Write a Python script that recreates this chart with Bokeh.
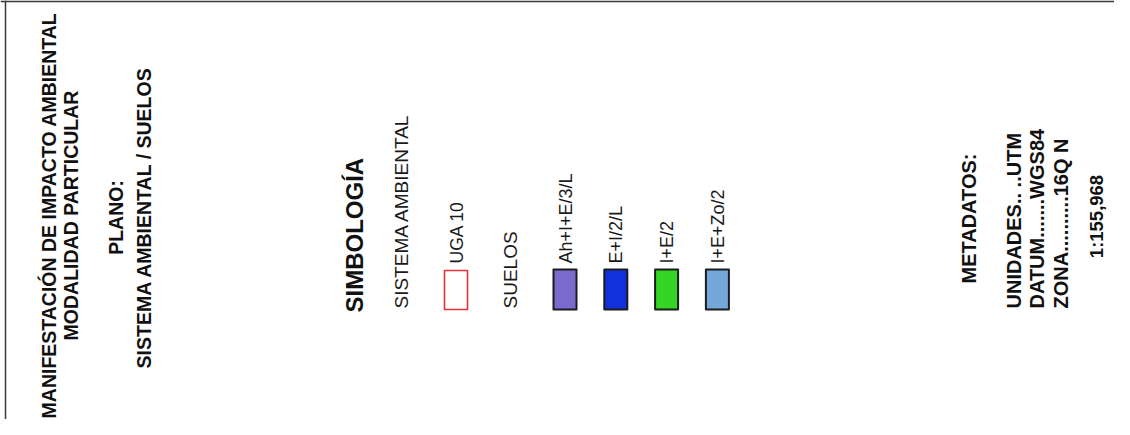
import math
from bokeh.plotting import figure
from bokeh.models import Range1d, Span, ColumnDataSource
from bokeh.core.properties import value
from bokeh.embed import file_html
from bokeh.resources import INLINE

# ---------------- data ----------------
title_lines = ["MANIFESTACIÓN DE IMPACTO AMBIENTAL", "MODALIDAD PARTICULAR"]
plano_lines = ["PLANO:", "SISTEMA AMBIENTAL / SUELOS"]
legend_title = "SIMBOLOGÍA"
section_labels = ["SISTEMA AMBIENTAL", "SUELOS"]
uga_labels = ["UGA 10"]
uga_colors = ["#e8323a"]
soil_labels = ["Ah+I+E/3/L", "E+I/2/L", "I+E/2", "I+E+Zo/2"]
soil_colors = ["#7b6bcf", "#1231dd", "#33d624", "#76a7da"]
meta_title = "METADATOS:"
meta_lines = ["UNIDADES.. ..UTM", "DATUM.......WGS84", "ZONA..........16Q N"]
scale_text = "1:155,968"

# ---------------- layout (pixel coordinates) ----------------
FONT = "Liberation Sans"
ANG = math.pi / 2
W, H = 1114, 419
TX = -7  # rotated-text offset

p = figure(width=W, height=H, output_backend="svg", toolbar_location=None,
           x_range=Range1d(0, W), y_range=Range1d(H, 0),
           min_border=0, background_fill_color="white")
p.axis.visible = False
p.grid.visible = False
p.outline_line_color = None

# frame lines
p.add_layout(Span(location=0.8, dimension="width", line_color="#3a3a3a", line_width=1.8))
p.add_layout(Span(location=5, dimension="height", line_color="#3a3a3a", line_width=1.5))

def vtext(xs, ys, texts, size, bold=False, align="center", color="#111111"):
    src = ColumnDataSource(dict(x=[x + TX for x in xs], y=ys, t=texts))
    p.text(x="x", y="y", text="t", source=src, angle=ANG,
           text_font=value(FONT), text_font_size=f"{size}px",
           text_font_style="bold" if bold else "normal",
           text_align=align, text_baseline="alphabetic", text_color=color)

# title block
vtext([55, 77], [215, 215], title_lines, 19.5, bold=True)
vtext([122, 150], [217, 217], plano_lines, 19.5, bold=True)

# legend
vtext([361], [312], [legend_title], 24, bold=True, align="left")
vtext([408, 517], [308, 308], section_labels, 19, align="left", color="#1a1a1a")

# UGA symbol
ux = [455.5 + 51 * i for i in range(len(uga_labels))]
p.rect(x=ux, y=[289.5] * len(ux), width=23, height=39,
       fill_color=None, line_color=uga_colors, line_width=1.6)
vtext([x + 7.5 for x in ux], [263] * len(ux), uga_labels, 17.5, align="left", color="#1a1a1a")

# soil swatches
sx = [564.5 + 50.8 * i for i in range(len(soil_labels))]
p.rect(x=sx, y=[289] * len(sx), width=23, height=40,
       fill_color=soil_colors, line_color="#1c1c1c", line_width=2, line_join="round")
vtext([x + 7.5 for x in sx], [263] * len(sx), soil_labels, 18, align="left", color="#1a1a1a")

# metadata
vtext([975], [218], [meta_title], 20, bold=True)
vtext([1020, 1043, 1067], [308, 308, 308], meta_lines, 20, bold=True, align="left")
vtext([1103], [216], [scale_text], 18.5, bold=True)

open("out.html", "w").write(file_html(p, INLINE))
